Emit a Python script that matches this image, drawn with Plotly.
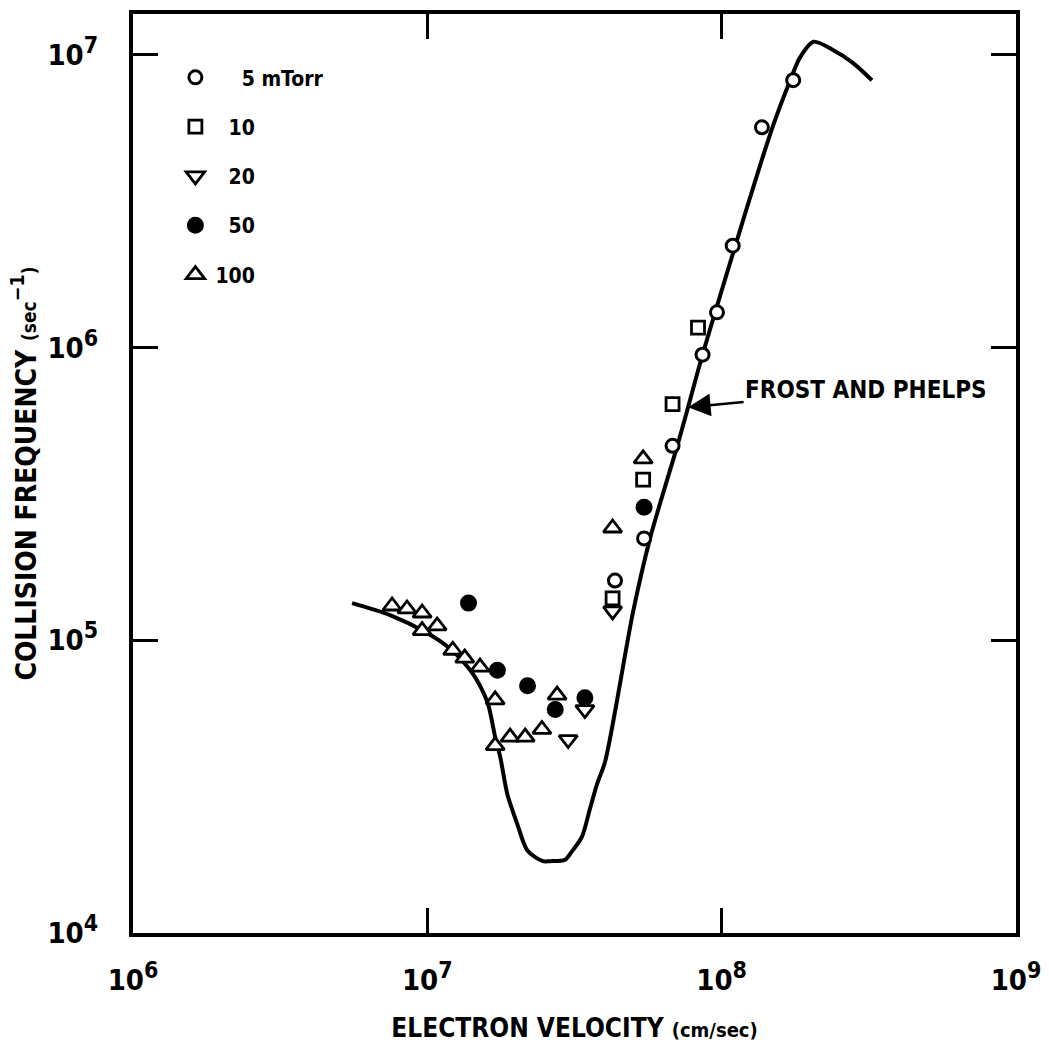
import math
import plotly.graph_objects as go

# Electron velocity (cm/sec) and collision frequency (sec^-1)

# Frost and Phelps curve
curve_v = [5.55e6, 7.47e6, 9.98e6, 1.19e7, 1.40e7, 1.51e7, 1.61e7, 1.70e7,
           1.77e7, 1.87e7, 2.02e7, 2.19e7, 2.47e7, 2.61e7, 2.94e7, 3.10e7,
           3.35e7, 3.57e7, 3.77e7, 4.02e7, 5.00e7, 5.71e7, 7.05e7, 7.69e7,
           8.61e7, 1.48e8, 1.71e8, 1.85e8, 2.05e8, 2.39e8, 2.79e8, 3.24e8]
curve_nu = [1.34e5, 1.22e5, 1.06e5, 9.4e4, 7.9e4, 7.0e4, 6.03e4, 4.67e4,
            3.98e4, 2.98e4, 2.36e4, 1.91e4, 1.76e4, 1.76e4, 1.78e4, 1.90e4,
            2.13e4, 2.66e4, 3.22e4, 3.86e4, 1.25e5, 2.23e5, 4.58e5, 6.26e5,
            9.46e5, 5.57e6, 8.2e6, 9.85e6, 1.11e7, 1.04e7, 9.4e6, 8.2e6]

# Measurements by pressure
p5_v = [4.34e7, 5.45e7, 6.81e7, 8.61e7, 9.64e7, 1.09e8, 1.37e8, 1.75e8]
p5_nu = [1.60e5, 2.23e5, 4.62e5, 9.46e5, 1.32e6, 2.23e6, 5.66e6, 8.2e6]

p10_v = [4.26e7, 5.41e7, 6.81e7, 8.31e7]
p10_nu = [1.39e5, 3.54e5, 6.41e5, 1.17e6]

p20_v = [3.01e7, 3.43e7, 4.26e7]
p20_nu = [4.58e4, 5.8e4, 1.26e5]

p50_v = [1.38e7, 1.73e7, 2.19e7, 2.72e7, 3.43e7, 5.45e7]
p50_nu = [1.34e5, 7.9e4, 7.0e4, 5.8e4, 6.36e4, 2.85e5]

p100_v = [7.59e6, 8.53e6, 9.60e6, 9.60e6, 1.08e7, 1.22e7, 1.34e7, 1.51e7,
          1.70e7, 1.70e7, 1.91e7, 2.15e7, 2.45e7, 2.76e7, 4.26e7, 5.41e7]
p100_nu = [1.31e5, 1.28e5, 1.24e5, 1.08e5, 1.12e5, 9.25e4, 8.7e4, 8.1e4,
           6.26e4, 4.37e4, 4.67e4, 4.67e4, 4.96e4, 6.5e4, 2.42e5, 4.17e5]

legend_names = ["\u2007\u20075 mTorr", "\u200710", "\u200720", "\u200750", "100"]

x_tickvals = [1e6, 1e7, 1e8, 1e9]
y_tickvals = [1e4, 1e5, 1e6, 1e7]
x_exponents = ["6", "7", "8", "9"]
y_exponents = ["4", "5", "6", "7"]

# Point on the curve that the label arrow points to
arrow_v = 7.69e7
arrow_nu = 6.26e5

FONT = "Liberation Sans Narrow, DejaVu Sans Condensed, Arial Narrow, sans-serif"


def power_label(exp):
    return f"10<sup><span style='font-size:23px'>{exp}</span></sup>"


fig = go.Figure()

fig.add_trace(go.Scatter(
    x=curve_v, y=curve_nu, mode="lines",
    line=dict(color="black", width=4, shape="spline", smoothing=0.8),
    showlegend=False, hoverinfo="skip",
))

series = [
    (p5_v, p5_nu, legend_names[0], "circle", "white", 13, 3),
    (p10_v, p10_nu, legend_names[1], "square", "white", 13, 2.8),
    (p20_v, p20_nu, legend_names[2], "triangle-down", "white", 16, 2.8),
    (p50_v, p50_nu, legend_names[3], "circle", "black", 15, 2),
    (p100_v, p100_nu, legend_names[4], "triangle-up", "white", 16, 2.8),
]
for i, (xs, ys, name, sym, fill, size, lw) in enumerate(series):
    fig.add_trace(go.Scatter(
        x=xs, y=ys, mode="markers", name=name, legendgroup=f"g{i}",
        marker=dict(symbol=sym, size=size, color=fill,
                    line=dict(color="black", width=lw)),
    ))

fig.add_annotation(
    x=math.log10(arrow_v), y=math.log10(arrow_nu), xref="x", yref="y",
    text="FROST AND PHELPS", showarrow=True,
    arrowhead=2, arrowsize=1.8, arrowwidth=2.5, arrowcolor="black",
    ax=178, ay=-17, xanchor="center",
    font=dict(family=FONT, size=24, color="black", weight="bold"),
)

axis_common = dict(
    type="log", showgrid=False, zeroline=False, automargin=False,
    showline=True, linewidth=4, linecolor="black", mirror="ticks",
    ticks="inside", ticklen=25, tickwidth=2.5, tickcolor="black",
    tickfont=dict(family=FONT, size=29, color="black", weight="bold"),
)

fig.update_xaxes(
    **axis_common, range=[6, 9],
    tickvals=x_tickvals, ticktext=[power_label(e) for e in x_exponents],
    ticklabelstandoff=18,
    title=dict(
        text="ELECTRON VELOCITY <span style='font-size:20px'>(cm/sec)</span>",
        font=dict(family=FONT, size=26, color="black", weight="bold"),
        standoff=24,
    ),
)
fig.update_yaxes(
    **axis_common, range=[4, 7.14],
    tickvals=y_tickvals, ticktext=[power_label(e) for e in y_exponents],
    ticklabelstandoff=25,
    title=dict(
        text="COLLISION FREQUENCY <span style='font-size:19px'>(sec</span>"
             "<sup>\u22121</sup><span style='font-size:19px'>)</span>",
        font=dict(family=FONT, size=28, color="black", weight="bold"),
        standoff=4,
    ),
)

fig.update_layout(
    width=1049, height=1046,
    margin=dict(l=133, r=33, t=14, b=113, autoexpand=False),
    paper_bgcolor="white", plot_bgcolor="white",
    showlegend=True,
    legend=dict(
        x=0.048, y=0.953, xanchor="left", yanchor="top",
        bgcolor="rgba(0,0,0,0)", borderwidth=0,
        tracegroupgap=19, itemsizing="trace",
        font=dict(family=FONT, size=21, color="black", weight="bold"),
    ),
)

fig.write_html("out.html")
